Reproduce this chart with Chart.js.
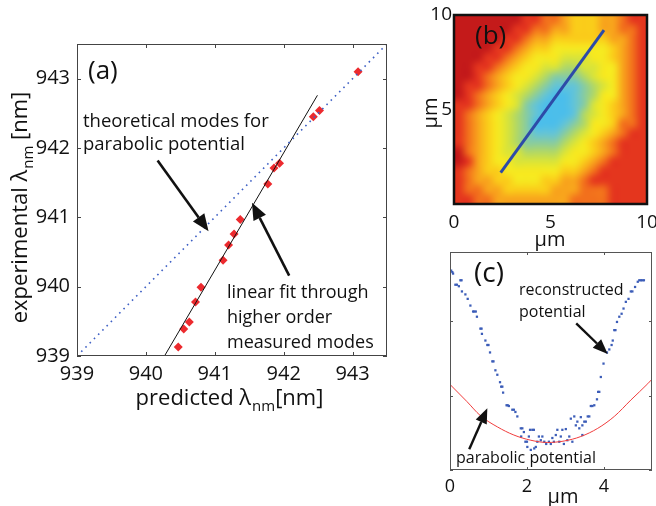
<!DOCTYPE html>
<html>
<head>
<meta charset="utf-8">
<script src="https://cdn.jsdelivr.net/npm/chart.js@4.4.1/dist/chart.umd.min.js"></script>
<style>
  html, body { margin: 0; padding: 0; background: #fff; }
  #wrap { position: relative; width: 656px; height: 506px; overflow: hidden; }
  canvas { position: absolute; left: 0; top: 0; }
</style>
</head>
<body>
<div id="wrap">
  <canvas id="chartA" width="656" height="506"></canvas>
  <canvas id="chartB" width="656" height="506"></canvas>
  <canvas id="chartC" width="656" height="506"></canvas>
</div>
<script>
// ---- panel (a): measured vs predicted mode wavelengths
var predicted = [940.47, 940.55, 940.63, 940.72, 940.80, 941.12, 941.20, 941.28, 941.37, 941.77, 941.86, 941.94, 942.43, 942.52, 943.08];
var experimental = [939.13, 939.39, 939.49, 939.78, 939.99, 940.38, 940.60, 940.76, 940.97, 941.48, 941.71, 941.78, 942.45, 942.54, 943.10];
var theoryX = [939, 943.5];
var theoryY = [939, 943.5];
var fitX = [940.27, 942.49];
var fitY = [939.0, 942.76];
var ticksA = [939, 940, 941, 942, 943];

// ---- panel (b): potential map, 0.5 um cells, rows from y=10 (top) down to y=0
// 0 = lowest (cyan) ... 10 = highest (dark red)
var mapLevels = [
  [10, 10, 10, 10, 10, 10, 10, 9, 9, 8, 8, 7, 6, 6, 6, 7, 7, 8, 9, 9],
  [10, 10, 10, 10, 10, 10, 9, 9, 8, 8, 7, 7, 6, 6, 6, 7, 7, 8, 8, 9],
  [10, 10, 10, 10, 10, 9, 9, 8, 7, 7, 6, 6, 6, 6, 6, 6, 7, 7, 8, 9],
  [10, 10, 10, 10, 9, 9, 8, 7, 6, 6, 5, 5, 5, 5, 5, 5, 6, 7, 8, 9],
  [10, 10, 10, 9, 9, 8, 7, 6, 5, 5, 5, 4, 4, 4, 5, 5, 6, 7, 8, 9],
  [10, 10, 9, 9, 8, 7, 6, 5, 5, 4, 4, 3, 3, 4, 4, 5, 5, 7, 8, 9],
  [10, 10, 9, 8, 7, 6, 5, 5, 4, 3, 2, 2, 2, 3, 4, 5, 5, 7, 8, 9],
  [10, 9, 9, 8, 7, 6, 5, 4, 3, 2, 1, 1, 1, 2, 3, 4, 5, 7, 8, 9],
  [10, 9, 8, 7, 6, 5, 4, 3, 2, 1, 0, 0, 1, 2, 3, 5, 5, 7, 8, 9],
  [9, 9, 8, 7, 6, 5, 4, 2, 1, 0, 0, 0, 1, 2, 4, 5, 6, 7, 8, 9],
  [9, 8, 7, 6, 5, 4, 3, 2, 1, 0, 0, 0, 1, 3, 4, 5, 6, 7, 8, 9],
  [9, 8, 7, 6, 5, 4, 3, 2, 0, 0, 0, 1, 2, 3, 5, 5, 6, 8, 8, 9],
  [9, 8, 7, 6, 5, 4, 3, 2, 1, 1, 1, 2, 3, 4, 5, 6, 7, 8, 9, 9],
  [9, 8, 7, 6, 5, 4, 3, 2, 2, 2, 2, 3, 4, 5, 6, 7, 8, 9, 9, 9],
  [10, 8, 7, 6, 5, 4, 4, 3, 3, 3, 3, 4, 5, 5, 6, 7, 8, 9, 9, 9],
  [10, 9, 7, 6, 5, 5, 4, 4, 4, 4, 4, 5, 5, 6, 7, 8, 9, 9, 9, 9],
  [9, 8, 7, 6, 6, 5, 5, 5, 5, 5, 5, 6, 6, 7, 8, 9, 9, 9, 9, 9],
  [9, 8, 7, 7, 6, 6, 5, 5, 5, 6, 6, 7, 7, 8, 9, 9, 9, 9, 9, 9],
  [9, 8, 8, 7, 7, 6, 6, 6, 6, 6, 7, 7, 7, 8, 8, 8, 9, 9, 9, 9],
  [9, 9, 8, 8, 7, 7, 7, 7, 7, 7, 7, 7, 8, 8, 8, 8, 9, 9, 9, 9]
];
var cutX = [2.42, 7.77];
var cutY = [1.66, 9.2];
var ticksBx = [0, 5, 10];
var ticksBy = [5, 10];

// ---- panel (c): reconstructed potential along the cut, and parabola
var reconX = [0.03, 0.06, 0.08, 0.14, 0.18, 0.23, 0.27, 0.30, 0.31, 0.40, 0.46, 0.53, 0.60, 0.63, 0.67, 0.70,
  0.79, 0.82, 0.83, 0.92, 0.97, 1.00, 1.04, 1.10, 1.13, 1.18, 1.23, 1.30, 1.33, 1.36, 1.38, 1.47, 1.50, 1.53,
  1.62, 1.66, 1.70, 1.75, 1.84, 1.88, 1.92, 1.85, 1.96, 2.00, 2.05, 2.08, 2.14, 2.18, 2.01, 2.10, 2.19, 2.23,
  2.27, 2.31, 2.36, 2.40, 2.45, 2.50, 2.57, 2.62, 2.66, 2.70, 2.75, 2.79, 2.84, 2.88, 2.92, 2.96, 3.01, 3.05,
  3.10, 3.14, 3.18, 3.23, 3.27, 3.31, 3.36, 3.40, 3.44, 3.44, 3.49, 3.53, 3.58, 3.62, 3.66, 3.70, 3.75, 3.82,
  3.85, 3.88, 3.92, 3.99, 4.08, 4.14, 4.20, 4.23, 4.27, 4.30, 4.34, 4.40, 4.46, 4.51, 4.57, 4.64, 4.70, 4.74,
  4.81, 4.88, 4.92, 4.96, 5.00, 5.04];
var reconY = [2.68, 2.66, 2.64, 2.49, 2.49, 2.47, 2.55, 2.55, 2.40, 2.36, 2.30, 2.21, 2.13, 2.13, 2.13, 2.06,
  1.90, 1.90, 1.83, 1.74, 1.68, 1.68, 1.58, 1.46, 1.46, 1.34, 1.28, 1.18, 1.12, 1.12, 1.04, 0.87, 0.87, 0.86,
  0.81, 0.81, 0.78, 0.72, 0.56, 0.56, 0.51, 0.45, 0.38, 0.38, 0.45, 0.54, 0.54, 0.54, 0.31, 0.27, 0.29, 0.31,
  0.38, 0.45, 0.40, 0.45, 0.38, 0.35, 0.38, 0.35, 0.43, 0.38, 0.47, 0.54, 0.38, 0.45, 0.54, 0.35, 0.55, 0.40,
  0.45, 0.69, 0.38, 0.72, 0.60, 0.65, 0.56, 0.71, 0.60, 0.47, 0.65, 0.65, 0.72, 0.72, 0.86, 0.86, 0.87, 0.95,
  1.05, 1.05, 1.25, 1.43, 1.58, 1.62, 1.68, 1.74, 1.88, 1.88, 1.99, 2.06, 2.10, 2.17, 2.26, 2.30, 2.40, 2.40,
  2.46, 2.53, 2.55, 2.55, 2.55, 2.55];
var parabX = [0, 0.44, 0.79, 1.23, 1.66, 2.10, 2.53, 2.97, 3.40, 3.84, 4.27, 4.70, 5.14, 5.25];
var parabY = [1.15, 0.92, 0.73, 0.58, 0.47, 0.40, 0.37, 0.39, 0.45, 0.56, 0.72, 0.94, 1.16, 1.22];
var ticksCx = [0, 2, 4];
var ticksCy = [0, 1, 2];

// jet-like palette for the map levels
var levelColors = [
  [76, 190, 234], [100, 196, 214], [136, 204, 160], [178, 216, 100], [218, 228, 56], [246, 232, 32],
  [250, 204, 26], [248, 164, 28], [242, 112, 28], [228, 54, 30], [196, 26, 26]
];

var FONT = '"Open Sans", "Liberation Sans", sans-serif';

function pts(xs, ys) {
  return xs.map(function (x, i) { return { x: x, y: ys[i] }; });
}

function fixTicks(list) {
  return function (s) { s.ticks = list.map(function (v) { return { value: v }; }); };
}

function arrow(ctx, x1, y1, x2, y2, head, halfW, lw) {
  var a = Math.atan2(y2 - y1, x2 - x1);
  var bx = x2 - head * Math.cos(a), by = y2 - head * Math.sin(a);
  ctx.lineWidth = lw;
  ctx.beginPath(); ctx.moveTo(x1, y1); ctx.lineTo(bx, by); ctx.stroke();
  ctx.beginPath();
  ctx.moveTo(x2, y2);
  ctx.lineTo(bx + halfW * Math.sin(a), by - halfW * Math.cos(a));
  ctx.lineTo(bx - halfW * Math.sin(a), by + halfW * Math.cos(a));
  ctx.closePath(); ctx.fill();
}

// text like "predicted λ" + subscript "nm" + "[nm]", centred on x, baseline y
function lambdaText(ctx, pre, post, size, x, y) {
  var main = size + 'px ' + FONT, sub = Math.round(size * 0.7) + 'px ' + FONT;
  ctx.font = main; var w1 = ctx.measureText(pre).width, w3 = ctx.measureText(post).width;
  ctx.font = sub; var w2 = ctx.measureText('nm').width;
  var x0 = x - (w1 + w2 + w3) / 2;
  ctx.textAlign = 'left'; ctx.textBaseline = 'alphabetic';
  ctx.font = main; ctx.fillText(pre, x0, y);
  ctx.font = sub; ctx.fillText('nm', x0 + w1 + 1, y + size * 0.28);
  ctx.font = main; ctx.fillText(post, x0 + w1 + w2 + 1, y);
}

function innerTicks(ctx, area, xs, ys, xt, yt, len) {
  ctx.beginPath();
  xt.forEach(function (v) {
    var px = Math.round(xs.getPixelForValue(v)) + 0.5;
    ctx.moveTo(px, area.bottom); ctx.lineTo(px, area.bottom - len);
    ctx.moveTo(px, area.top); ctx.lineTo(px, area.top + len);
  });
  yt.forEach(function (v) {
    var py = Math.round(ys.getPixelForValue(v)) + 0.5;
    ctx.moveTo(area.left, py); ctx.lineTo(area.left + len, py);
    ctx.moveTo(area.right, py); ctx.lineTo(area.right - len, py);
  });
  ctx.stroke();
}

function baseOptions(padding) {
  return {
    responsive: false,
    animation: false,
    events: [],
    layout: { padding: padding },
    plugins: { legend: { display: false }, tooltip: { enabled: false } }
  };
}

function axis(min, max, ticks, size, pad, fit, show) {
  return {
    type: 'linear', min: min, max: max,
    afterBuildTicks: fixTicks(ticks),
    afterFit: fit,
    grid: { display: false, drawTicks: false },
    border: { display: false },
    ticks: { display: show !== false, color: '#111', font: { family: FONT, size: size }, padding: pad }
  };
}

// ---------- (a)
var optsA = baseOptions({ left: 0, top: 44, right: 269, bottom: 0 });
optsA.scales = {
  x: axis(939, 943.5, ticksA, 20, 6, function (s) { s.height = 150; s.paddingLeft = 0; s.paddingRight = 0; }),
  y: axis(939, 943.5, ticksA, 20, 7, function (s) { s.width = 77; s.paddingTop = 0; s.paddingBottom = 0; })
};
new Chart(document.getElementById('chartA'), {
  type: 'scatter',
  data: {
    datasets: [
      { data: pts(theoryX, theoryY), showLine: true, borderColor: '#3d5fc4', borderWidth: 1.6, borderDash: [1.6, 4.4], pointRadius: 0 },
      { data: pts(fitX, fitY), showLine: true, borderColor: '#111', borderWidth: 1, pointRadius: 0 },
      { data: pts(predicted, experimental), pointStyle: 'rectRot', pointRadius: 4.5, backgroundColor: '#ec2a2e', borderColor: '#ec2a2e', borderWidth: 0 }
    ]
  },
  options: optsA,
  plugins: [{
    id: 'decorA',
    afterDraw: function (chart) {
      var ctx = chart.ctx, a = chart.chartArea, xs = chart.scales.x, ys = chart.scales.y;
      ctx.save();
      ctx.strokeStyle = '#444'; ctx.lineWidth = 1;
      ctx.strokeRect(Math.round(a.left) + 0.5, Math.round(a.top) + 0.5, Math.round(a.right - a.left) - 1, Math.round(a.bottom - a.top) - 1);
      innerTicks(ctx, a, xs, ys, ticksA, ticksA, 4);
      ctx.fillStyle = '#111'; ctx.strokeStyle = '#111';
      ctx.textAlign = 'left'; ctx.textBaseline = 'alphabetic';
      ctx.font = '26px ' + FONT; ctx.fillText('(a)', 88, 79);
      ctx.font = '18.5px ' + FONT;
      ctx.fillText('theoretical modes for', 83, 127);
      ctx.fillText('parabolic potential', 83, 150);
      ctx.font = '18px ' + FONT;
      ctx.fillText('linear fit through', 227, 298);
      ctx.fillText('higher order', 227, 323);
      ctx.fillText('measured modes', 227, 348);
      arrow(ctx, xs.getPixelForValue(940.17), ys.getPixelForValue(941.82), xs.getPixelForValue(940.91), ys.getPixelForValue(940.80), 17, 7, 2.6);
      arrow(ctx, xs.getPixelForValue(942.08), ys.getPixelForValue(940.16), xs.getPixelForValue(941.54), ys.getPixelForValue(941.21), 17, 7, 2.6);
      lambdaText(ctx, 'predicted λ', '[nm]', 22, 229, 405);
      ctx.translate(27, 208); ctx.rotate(-Math.PI / 2);
      lambdaText(ctx, 'experimental λ', ' [nm]', 22, 0, 0);
      ctx.restore();
    }
  }]
});

// ---------- (b)
var optsB = baseOptions({ left: 424, top: 15, right: 9, bottom: 0 });
optsB.scales = {
  x: axis(0, 10, ticksBx, 19, 7, function (s) { s.height = 302; s.paddingLeft = 0; s.paddingRight = 0; }),
  y: axis(0, 10, ticksBy, 19, 2, function (s) { s.width = 30; s.paddingTop = 0; s.paddingBottom = 0; })
};
new Chart(document.getElementById('chartB'), {
  type: 'scatter',
  data: {
    datasets: [
      { data: pts(cutX, cutY), showLine: true, borderColor: '#2d4ba8', borderWidth: 3, pointRadius: 0 }
    ]
  },
  options: optsB,
  plugins: [{
    id: 'mapB',
    beforeDatasetsDraw: function (chart) {
      var xs = chart.scales.x, ys = chart.scales.y;
      var rows = mapLevels.length, cols = mapLevels[0].length;
      var off = document.createElement('canvas');
      off.width = cols; off.height = rows;
      var octx = off.getContext('2d');
      var img = octx.createImageData(cols, rows);
      for (var r = 0; r < rows; r++) {
        for (var c = 0; c < cols; c++) {
          var col = levelColors[mapLevels[r][c]], k = (r * cols + c) * 4;
          img.data[k] = col[0]; img.data[k + 1] = col[1]; img.data[k + 2] = col[2]; img.data[k + 3] = 255;
        }
      }
      octx.putImageData(img, 0, 0);
      var x0 = xs.getPixelForValue(0), x1 = xs.getPixelForValue(10);
      var y0 = ys.getPixelForValue(10), y1 = ys.getPixelForValue(0);
      var ctx = chart.ctx;
      ctx.save();
      ctx.imageSmoothingEnabled = true;
      ctx.imageSmoothingQuality = 'high';
      ctx.drawImage(off, x0, y0, x1 - x0, y1 - y0);
      ctx.restore();
    },
    afterDraw: function (chart) {
      var ctx = chart.ctx, a = chart.chartArea;
      ctx.save();
      ctx.strokeStyle = '#111'; ctx.lineWidth = 2.5;
      ctx.strokeRect(a.left, a.top, a.right - a.left, a.bottom - a.top);
      ctx.fillStyle = '#111';
      ctx.textAlign = 'left'; ctx.textBaseline = 'alphabetic';
      ctx.font = '26px ' + FONT; ctx.fillText('(b)', 475, 44);
      ctx.textAlign = 'center';
      ctx.font = '20px ' + FONT; ctx.fillText('μm', 550, 246);
      ctx.translate(437, 113); ctx.rotate(-Math.PI / 2);
      ctx.fillText('μm', 0, 0);
      ctx.restore();
    }
  }]
});

// ---------- (c)
var optsC = baseOptions({ left: 430, top: 252, right: 4, bottom: 0 });
optsC.scales = {
  x: axis(0, 5.25, ticksCx, 18, 6, function (s) { s.height = 36; s.paddingLeft = 0; s.paddingRight = 0; }),
  y: axis(0, 2.93, ticksCy, 18, 2, function (s) { s.width = 20; s.paddingTop = 0; s.paddingBottom = 0; }, false)
};
new Chart(document.getElementById('chartC'), {
  type: 'scatter',
  data: {
    datasets: [
      { data: pts(parabX, parabY), showLine: true, borderColor: '#f03c3c', borderWidth: 1, pointRadius: 0, cubicInterpolationMode: 'monotone' },
      { data: pts(reconX, reconY), pointStyle: 'rect', pointRadius: 1.6, backgroundColor: '#3c5db8', borderWidth: 0 }
    ]
  },
  options: optsC,
  plugins: [{
    id: 'decorC',
    afterDraw: function (chart) {
      var ctx = chart.ctx, a = chart.chartArea, xs = chart.scales.x, ys = chart.scales.y;
      ctx.save();
      ctx.strokeStyle = '#555'; ctx.lineWidth = 1;
      ctx.strokeRect(Math.round(a.left) + 0.5, Math.round(a.top) + 0.5, Math.round(a.right - a.left) - 1, Math.round(a.bottom - a.top) - 1);
      innerTicks(ctx, a, xs, ys, ticksCx, ticksCy, 3);
      ctx.fillStyle = '#111'; ctx.strokeStyle = '#111';
      ctx.textAlign = 'left'; ctx.textBaseline = 'alphabetic';
      ctx.font = '28px ' + FONT; ctx.fillText('(c)', 474, 282);
      ctx.font = '16px ' + FONT;
      ctx.fillText('reconstructed', 519, 295);
      ctx.fillText('potential', 519, 317);
      ctx.fillText('parabolic potential', 456, 463);
      arrow(ctx, xs.getPixelForValue(3.28), ys.getPixelForValue(1.97), xs.getPixelForValue(4.10), ys.getPixelForValue(1.56), 15, 6, 2.4);
      arrow(ctx, xs.getPixelForValue(0.50), ys.getPixelForValue(0.28), xs.getPixelForValue(0.97), ys.getPixelForValue(0.83), 15, 6, 2.4);
      ctx.textAlign = 'center';
      ctx.font = '20px ' + FONT; ctx.fillText('μm', 563, 503);
      ctx.restore();
    }
  }]
});
</script>
</body>
</html>
